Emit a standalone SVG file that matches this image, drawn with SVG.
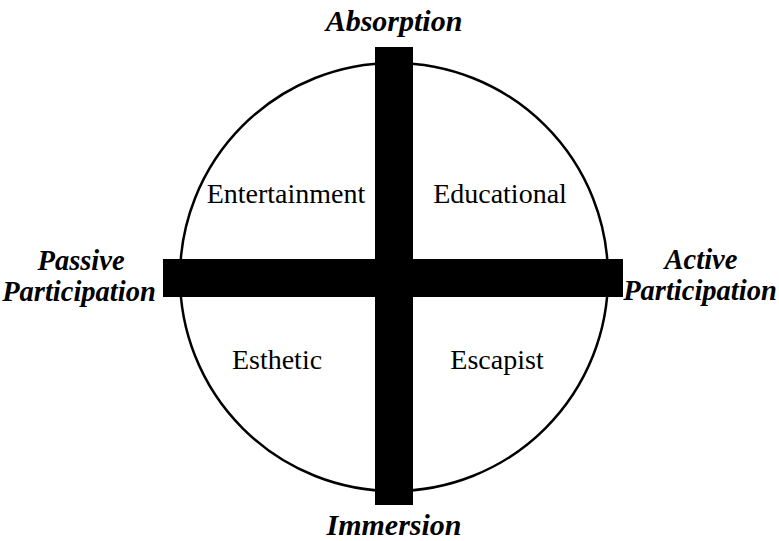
<svg xmlns="http://www.w3.org/2000/svg" width="779" height="541" viewBox="0 0 779 541">
<style>
.axis{font-family:"Liberation Serif","Times New Roman",serif;font-weight:bold;font-style:italic;font-size:30px;text-anchor:middle;fill:#000}
.side{font-size:28.5px}
.quad{font-family:"Liberation Serif","Times New Roman",serif;font-size:28px;text-anchor:middle;fill:#000}
.bar{fill:#000}
</style>
<rect width="779" height="541" fill="#fff"/>
<g id="circle"><circle cx="394" cy="277" r="214" fill="none" stroke="#000" stroke-width="2.5"/></g>
<g id="connectors">
<rect class="bar" x="375" y="47" width="38" height="458"/>
<rect class="bar" x="163" y="259" width="460" height="38"/>
</g>
<g id="absorption"><text class="axis" x="394" y="31">Absorption</text></g>
<g id="immersion"><text class="axis" x="394" y="535">Immersion</text></g>
<g id="passive"><text class="axis side" x="81" y="270">Passive</text><text class="axis side" x="79" y="301">Participation</text></g>
<g id="active"><text class="axis side" x="701" y="269">Active</text><text class="axis side" x="700" y="300">Participation</text></g>
<g id="entertainment"><text class="quad" x="286" y="203">Entertainment</text></g>
<g id="educational"><text class="quad" x="500" y="203">Educational</text></g>
<g id="esthetic"><text class="quad" x="277" y="369">Esthetic</text></g>
<g id="escapist"><text class="quad" x="497" y="369">Escapist</text></g>
</svg>
